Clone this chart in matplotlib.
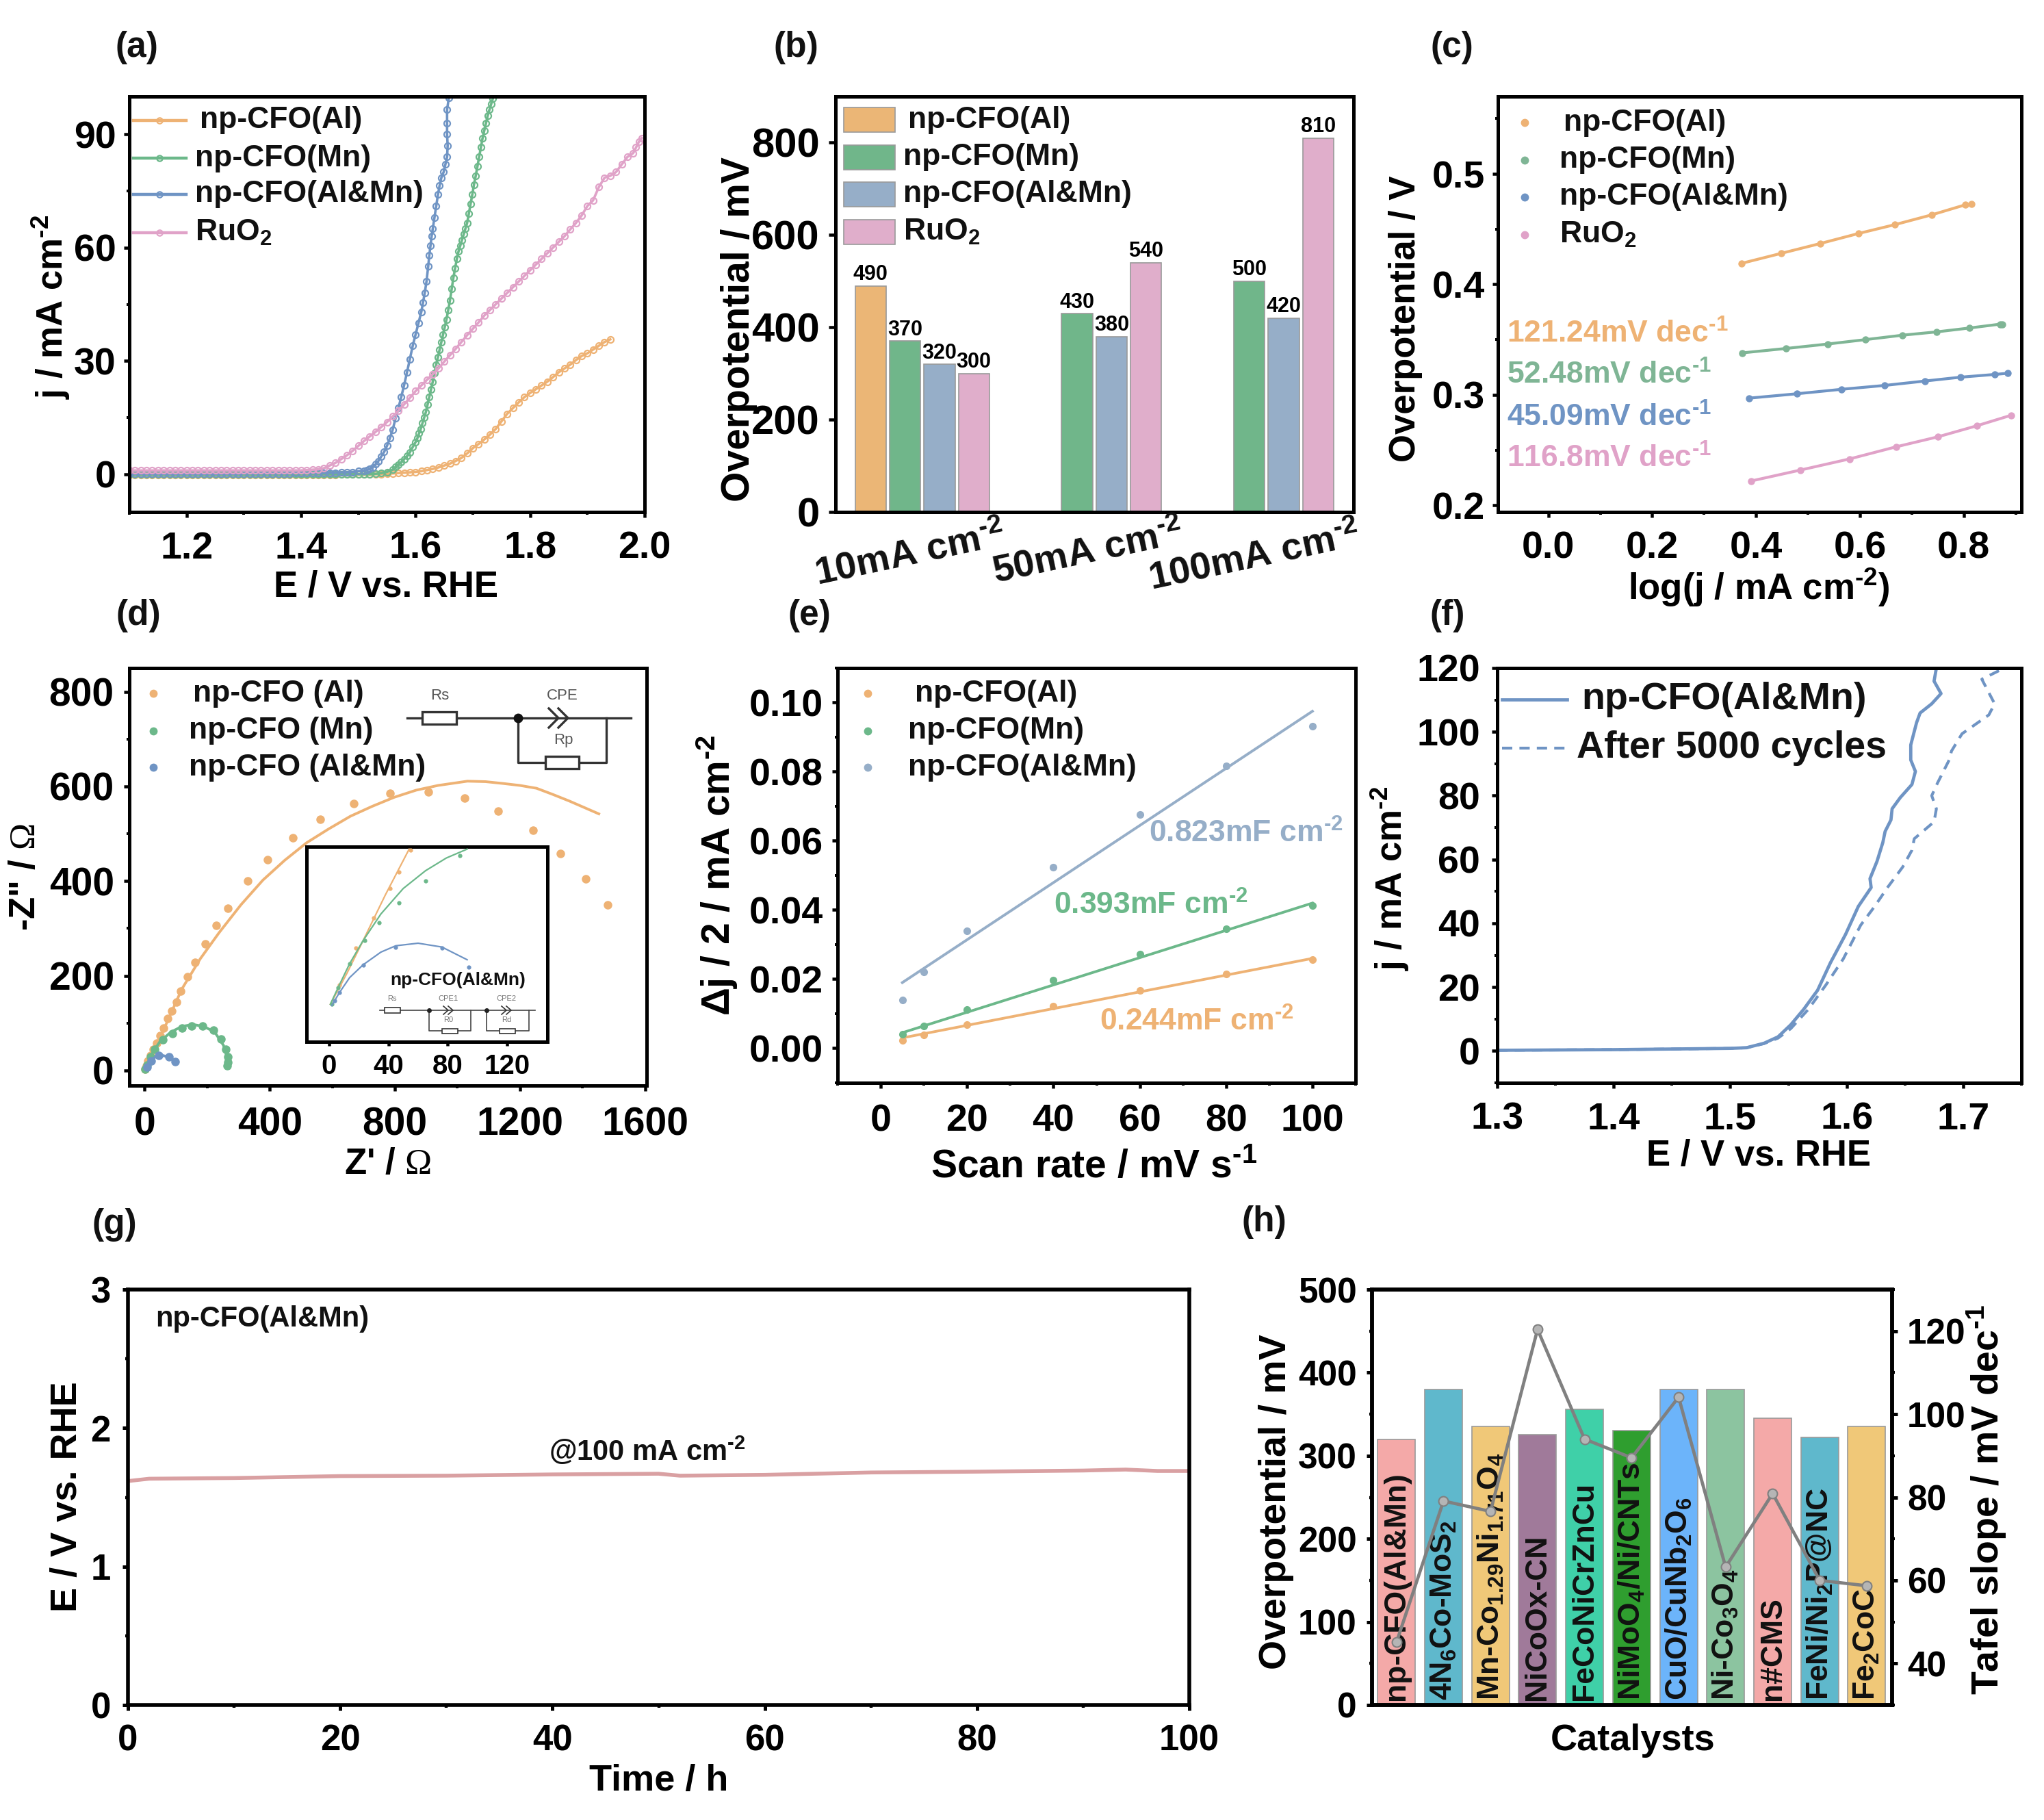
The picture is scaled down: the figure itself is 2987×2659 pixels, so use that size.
import matplotlib
matplotlib.use('Agg')
import matplotlib.pyplot as plt
from matplotlib.patches import Rectangle
from matplotlib.ticker import AutoMinorLocator, MultipleLocator

W, H = 2987, 2659

plt.rcParams['font.family'] = ['Liberation Sans', 'DejaVu Sans']
plt.rcParams['font.weight'] = 'bold'
plt.rcParams['axes.labelweight'] = 'bold'
plt.rcParams['mathtext.fontset'] = 'custom'
plt.rcParams['mathtext.rm'] = 'Liberation Sans:bold'
plt.rcParams['mathtext.tt'] = 'Liberation Serif:weight=normal'
plt.rcParams['mathtext.default'] = 'regular'

SUP2 = '$^{\u20102}$'
SUP1 = '$^{\u20101}$'
OHM = r'$\mathtt{\Omega}$'

ORANGE, GREEN, BLUE, PINK = '#eeb274', '#6cb88a', '#6f94c4', '#e0a2c8'

# (a) LSV curves
E_low = [1.10, 1.11, 1.12, 1.13, 1.14, 1.15, 1.16, 1.17, 1.18, 1.19, 1.20, 1.21, 1.22, 1.23,
         1.24, 1.25, 1.26, 1.27, 1.28, 1.29, 1.30, 1.31, 1.32, 1.33, 1.34, 1.35, 1.36, 1.37,
         1.38, 1.39, 1.40, 1.41, 1.42, 1.43, 1.44, 1.45, 1.46, 1.47, 1.48, 1.49, 1.50]
j_low_al = [-0.2, -0.2, -0.2, -0.2, -0.2, -0.2, -0.2, -0.2, -0.2, -0.2, -0.2, -0.2, -0.2, -0.2,
            -0.2, -0.2, -0.2, -0.2, -0.2, -0.2, -0.2, -0.2, -0.2, -0.2, -0.2, -0.2, -0.2, -0.2,
            -0.2, -0.2, -0.2, -0.2, -0.2, -0.2, -0.2, -0.2, -0.2, -0.1, -0.1, -0.1, -0.1]
j_low_mn = [-0.1, -0.1, -0.1, -0.1, -0.1, -0.1, -0.1, -0.1, -0.1, -0.1, -0.1, -0.1, -0.1, -0.1,
            -0.1, -0.1, -0.1, -0.1, -0.1, -0.1, -0.1, -0.1, -0.1, -0.1, -0.1, -0.1, -0.1, -0.1,
            -0.1, -0.1, 0.0, 0.0, 0.0, 0.0, 0.0, 0.0, 0.0, 0.0, 0.0, 0.0, 0.0]
j_low_blue = [0.1, 0.1, 0.1, 0.1, 0.1, 0.1, 0.1, 0.1, 0.1, 0.1, 0.1, 0.1, 0.1, 0.1,
              0.1, 0.1, 0.1, 0.1, 0.1, 0.1, 0.2, 0.2, 0.2, 0.2, 0.2, 0.2, 0.2, 0.2,
              0.2, 0.3, 0.3, 0.3, 0.3, 0.3, 0.3, 0.4, 0.4, 0.5, 0.5, 0.6, 0.8]
j_low_ru = [1.0, 1.0, 1.0, 1.0, 1.0, 1.0, 1.0, 1.0, 1.0, 1.0, 1.0, 1.0, 1.0, 1.0,
            1.0, 1.0, 1.0, 1.0, 1.0, 1.0, 1.0, 1.0, 1.0, 1.0, 1.0, 1.0, 1.0, 1.0,
            1.0, 1.0, 1.0, 1.1, 1.2, 1.3, 1.6, 2.3, 3.0, 4.0, 5.0, 6.2, 7.5]

E_al = [1.51, 1.52, 1.53, 1.54, 1.55, 1.56, 1.57, 1.58, 1.59, 1.60, 1.61, 1.62, 1.63, 1.64, 1.65,
        1.66, 1.67, 1.68, 1.69, 1.70, 1.71, 1.72, 1.73, 1.74, 1.75, 1.76, 1.77, 1.78, 1.79, 1.80,
        1.81, 1.82, 1.83, 1.84, 1.85, 1.86, 1.87, 1.88, 1.89, 1.90, 1.91, 1.92, 1.93, 1.94]
j_al = [-0.1, -0.1, 0.0, 0.0, 0.1, 0.2, 0.3, 0.4, 0.5, 0.6, 0.8, 1.1, 1.4, 1.8, 2.3,
        2.8, 3.5, 4.3, 5.5, 6.9, 8.0, 9.2, 10.5, 12.0, 14.0, 16.0, 17.5, 19.0, 20.4, 21.5,
        22.5, 23.5, 24.5, 25.7, 27.0, 28.0, 29.0, 30.2, 31.3, 32.0, 33.0, 34.0, 35.0, 35.7]
E_mn = [1.51, 1.52, 1.53, 1.54, 1.55, 1.56, 1.565, 1.57, 1.575, 1.58, 1.585, 1.59, 1.595, 1.60,
        1.603, 1.606, 1.609, 1.612, 1.615, 1.618, 1.621, 1.624, 1.627, 1.63, 1.633, 1.636, 1.639,
        1.642, 1.645, 1.648, 1.651, 1.654, 1.657, 1.66, 1.663, 1.666, 1.669, 1.672, 1.675, 1.678,
        1.681, 1.684, 1.687, 1.69, 1.693, 1.696, 1.699, 1.702, 1.705, 1.708, 1.711, 1.714, 1.717,
        1.72, 1.723, 1.726, 1.729, 1.732, 1.735]
j_mn = [0.0, 0.0, 0.1, 0.3, 0.6, 1.2, 1.9, 2.5, 3.2, 4.0, 4.8, 5.8, 7.2, 8.5,
        9.5, 10.8, 12.0, 13.5, 15.0, 16.5, 18.5, 20.5, 22.5, 24.5, 26.7, 29.0, 31.0,
        33.0, 35.0, 37.0, 39.0, 41.0, 43.5, 46.0, 49.0, 52.0, 54.5, 57.0, 59.0, 60.5,
        62.0, 63.5, 65.0, 66.5, 69.0, 71.5, 74.0, 76.7, 79.0, 81.5, 84.0, 86.5, 89.0,
        91.0, 93.0, 95.0, 96.5, 98.0, 99.5]
E_blue = [1.51, 1.515, 1.52, 1.525, 1.53, 1.535, 1.54, 1.545, 1.55, 1.555, 1.56, 1.565, 1.57, 1.575,
          1.58, 1.585, 1.59, 1.595, 1.60, 1.605, 1.61, 1.613, 1.616, 1.619, 1.622, 1.624, 1.626,
          1.628, 1.63, 1.633, 1.636, 1.639, 1.642, 1.645, 1.649, 1.652, 1.655, 1.656, 1.655, 1.655,
          1.655, 1.658]
j_blue = [0.9, 1.1, 1.4, 1.8, 2.6, 3.5, 4.7, 5.9, 7.5, 9.5, 11.8, 14.8, 17.5, 20.5,
          23.6, 27.0, 30.5, 34.0, 37.0, 40.0, 43.0, 45.5, 48.0, 51.0, 55.0, 58.0, 60.5,
          63.0, 65.0, 68.0, 71.0, 74.0, 76.5, 78.5, 80.0, 82.0, 84.0, 87.0, 90.0, 93.0,
          96.5, 99.6]
E_ru = [1.51, 1.52, 1.53, 1.54, 1.55, 1.56, 1.57, 1.58, 1.59, 1.60, 1.61, 1.62, 1.63, 1.64, 1.65,
        1.66, 1.67, 1.68, 1.69, 1.70, 1.71, 1.72, 1.73, 1.74, 1.75, 1.76, 1.77, 1.78, 1.79, 1.80,
        1.81, 1.82, 1.83, 1.84, 1.85, 1.86, 1.87, 1.88, 1.89, 1.90, 1.91, 1.92, 1.93, 1.94, 1.95,
        1.96, 1.97, 1.98, 1.985, 1.99, 1.995]
j_ru = [8.8, 10.0, 11.2, 12.5, 13.8, 15.3, 16.8, 18.5, 20.2, 22.0, 23.5, 25.0, 26.5, 28.0, 29.8,
        31.5, 33.2, 35.0, 36.8, 38.5, 40.2, 42.0, 43.5, 45.0, 46.5, 48.0, 49.5, 51.0, 52.5, 54.0,
        55.5, 57.0, 58.5, 60.0, 61.5, 63.0, 64.8, 66.5, 68.5, 71.0, 72.5, 76.0, 78.5, 79.0, 80.0,
        82.0, 84.0, 85.0, 86.5, 88.0, 89.0]

# (b) overpotential bars
density_labels = ['10mA cm', '50mA cm', '100mA cm']
eta_al = [490]
eta_mn = [370, 430, 500]
eta_blue = [320, 380, 420]
eta_ru = [300, 540, 810]

# (c) Tafel plots
logj_al = [0.372, 0.448, 0.524, 0.597, 0.667, 0.739, 0.803, 0.815]
tafel_al = [0.419, 0.428, 0.437, 0.446, 0.454, 0.463, 0.472, 0.473]
logj_mn = [0.374, 0.458, 0.538, 0.611, 0.682, 0.748, 0.811, 0.870, 0.874]
tafel_mn = [0.338, 0.342, 0.346, 0.350, 0.354, 0.357, 0.3605, 0.364, 0.364]
logj_blue = [0.386, 0.479, 0.564, 0.647, 0.725, 0.794, 0.860, 0.884]
tafel_blue = [0.297, 0.301, 0.305, 0.3085, 0.3125, 0.316, 0.3185, 0.3195]
logj_ru = [0.390, 0.486, 0.580, 0.670, 0.750, 0.825, 0.891]
tafel_ru = [0.222, 0.232, 0.242, 0.253, 0.262, 0.272, 0.2815]
slope_labels = ['121.24mV dec', '52.48mV dec', '45.09mV dec', '116.8mV dec']

# (d) Nyquist data and fits
zr_al = [1481, 1411, 1330, 1242, 1131, 1022, 906, 784, 668, 561, 474, 393, 330, 267, 228, 193, 161,
         136, 116, 101, 87, 73, 60, 49, 38, 28, 18, 11, 6, 2]
zi_al = [350, 404, 458, 507, 548, 576, 588, 586, 564, 531, 492, 445, 400, 343, 307, 267, 228,
         198, 168, 144, 126, 109, 89, 73, 57, 44, 32, 20, 10, 2]
fit_zr_al = [0, 60, 119, 178, 238, 308, 378, 448, 518, 588, 658, 728, 798, 868, 938, 1032, 1090,
             1148, 1200, 1253, 1305, 1358, 1452]
fit_zi_al = [0, 85, 172, 236, 291, 350, 402, 444, 481, 510, 537, 558, 577, 592, 602, 611, 610,
             606, 602, 596, 583, 569, 542]
zr_mn = [263, 266, 266, 260, 245, 220, 186, 150, 119, 88, 59, 32, 18, 7, 2]
zi_mn = [10, 17, 29, 45, 67, 85, 94, 94, 90, 78, 65, 45, 29, 12, 2]
fit_zr_mn = [2, 21, 49, 84, 119, 154, 189, 224, 252, 266, 270]
fit_zi_mn = [2, 33, 61, 81, 93, 97, 93, 81, 53, 21, 5]
zr_blue = [98, 77, 46, 21, 8]
zi_blue = [19, 29, 32, 20, 7]
fit_zr_blue = [3, 14, 35, 56, 77, 95]
fit_zi_blue = [2, 17, 29, 32, 28, 20]

# (d) inset
in_zr_al = [7, 18, 30, 41, 47, 55]
in_zi_al = [15, 44, 68, 91, 104, 121]
in_fit_zr_al = [1, 12, 23, 38, 54]
in_fit_zi_al = [0, 24, 50, 86, 122]
in_zr_mn = [2, 6, 14, 24, 34, 47, 65, 88]
in_zi_mn = [0, 13, 32, 50, 64, 80, 97, 117]
in_fit_zr_mn = [1, 7, 14, 23, 35, 50, 65, 79, 93]
in_fit_zi_mn = [0, 15, 32, 50, 71, 91, 105, 115, 122]
in_zr_blue = [4, 7, 23, 45, 76, 94]
in_zi_blue = [3, 9, 31, 45, 44, 29]
in_fit_zr_blue = [2, 7, 14, 23, 35, 45, 60, 76, 93]
in_fit_zi_blue = [-1, 9, 21, 31, 41, 46, 48, 45, 35]

# (e) double layer capacitance
scan_rate = [5, 10, 20, 40, 60, 80, 100]
dj_al = [0.0023, 0.0039, 0.0068, 0.0121, 0.0167, 0.0214, 0.0257]
dj_mn = [0.0041, 0.0065, 0.0112, 0.0197, 0.0273, 0.0346, 0.0412]
dj_blue = [0.0140, 0.0220, 0.0340, 0.0524, 0.0676, 0.0817, 0.0931]
fit_ends = [5, 100]
fit_al = [0.0030, 0.0260]
fit_mn = [0.0045, 0.0420]
fit_blue = [0.0190, 0.0975]

# (f) durability LSV
E_fresh = [1.30, 1.40, 1.50, 1.514, 1.529, 1.541, 1.552, 1.563, 1.575, 1.586, 1.599, 1.610, 1.621,
           1.620, 1.626, 1.631, 1.633, 1.638, 1.639, 1.646, 1.656, 1.659, 1.655, 1.655, 1.660,
           1.663, 1.673, 1.681, 1.675, 1.677]
j_fresh = [0.2, 0.4, 0.8, 1.0, 2.4, 4.4, 8.2, 13.0, 19.0, 27.6, 36.5, 45.3, 51.2,
           54.0, 59.4, 65.3, 68.8, 72.4, 75.9, 79.4, 83.5, 87.6, 91.2, 95.9, 102.9,
           105.9, 108.8, 112.0, 115.9, 120.0]
E_aged = [1.30, 1.40, 1.50, 1.514, 1.529, 1.541, 1.552, 1.567, 1.582, 1.597, 1.612, 1.624, 1.635,
          1.648, 1.656, 1.658, 1.675, 1.677, 1.673, 1.678, 1.688, 1.690, 1.699, 1.722, 1.727,
          1.716, 1.732]
j_aged = [0.2, 0.4, 0.8, 1.0, 2.3, 4.0, 7.0, 13.0, 20.6, 28.8, 39.4, 45.3, 51.2,
          57.6, 62.9, 66.5, 71.8, 75.9, 80.0, 84.0, 91.2, 94.0, 99.4, 105.3, 108.8,
          116.5, 119.4]

# (g) chronopotentiometry
time_h = [0, 2, 10, 20, 30, 40, 50, 52, 60, 70, 80, 90, 94, 97, 100]
e_time = [1.617, 1.634, 1.639, 1.653, 1.656, 1.665, 1.670, 1.656, 1.662, 1.679, 1.685, 1.693, 1.700, 1.690, 1.690]

# (h) catalyst comparison
catalysts = ['np-CFO(Al&Mn)', '4N$_6$Co-MoS$_2$', 'Mn-Co$_{1.29}$Ni$_{1.71}$O$_4$', 'NiCoOx-CN',
             'FeCoNiCrZnCu', 'NiMoO$_4$/Ni/CNTs', 'CuO/CuNb$_2$O$_6$', 'Ni-Co$_3$O$_4$', 'n#CMS',
             'FeNi/Ni$_2$P@NC', 'Fe$_2$CoC']
cat_eta = [320, 380, 335, 325, 356, 330, 380, 380, 345, 322, 335]
cat_tafel = [45.09, 79.1, 76.6, 120.4, 94, 89.5, 104.1, 63.2, 80.9, 60, 58.7]
cat_colors = ['#f4a9a8', '#5fb8cc', '#f0c878', '#a07a9a', '#3fd0a8', '#2f9e2f', '#6cb4fa',
              '#8cc4a0', '#f4a9a8', '#5fb8cc', '#f0c878']


fig = plt.figure(figsize=(W / 100, H / 100), dpi=100)
ov = fig.add_axes([0, 0, 1, 1], zorder=10)
ov.set_xlim(0, W)
ov.set_ylim(H, 0)
ov.axis('off')


def panel(left, top, right, bottom, xlim, ylim, size=40, pad=8, xpad=14, lw=3.6, tick=6):
	ax = fig.add_axes([left / W, 1 - bottom / H, (right - left) / W, (bottom - top) / H])
	ax.set_xlim(*xlim)
	ax.set_ylim(*ylim)
	for spine in ax.spines.values():
		spine.set_linewidth(lw)
	ax.tick_params(which='major', direction='out', length=tick, width=lw * 0.9, labelsize=size)
	ax.tick_params(which='minor', direction='out', length=tick * 0.5, width=lw * 0.8)
	ax.tick_params(axis='y', pad=pad)
	ax.tick_params(axis='x', pad=xpad)
	return ax


def labels(ax, xtext, xpos, ytext, ypos, xsize=38, ysize=38):
	if xtext:
		ax.set_xlabel(xtext, fontsize=xsize, va='center', ha='center')
		ax.xaxis.set_label_coords(xpos[0], xpos[1], transform=ov.transData)
	ax.set_ylabel(ytext, fontsize=ysize, va='center', ha='center')
	ax.yaxis.set_label_coords(ypos[0], ypos[1], transform=ov.transData)


def note(x, y, s, size=32, color='#111111', **kw):
	kw.setdefault('va', 'center')
	kw.setdefault('ha', 'left')
	ov.text(x, y, s, fontsize=size, color=color, **kw)


def dot_key(x, y, color, ms=7.5):
	ov.plot([x], [y], 'o', color=color, ms=ms, mec=color)


def resistor(x0, x1, y0, y1, lw):
	ov.add_patch(Rectangle((x0, y0), x1 - x0, y1 - y0, fc='white', ec='#333333', lw=lw, zorder=3))


def chevrons(x0, x1, y, half, lw):
	mid = (x0 + x1) / 2
	ov.plot([x0, mid, x0], [y - half, y, y + half], color='#333333', lw=lw, zorder=4)
	ov.plot([mid, x1, mid], [y - half, y, y + half], color='#333333', lw=lw, zorder=4)


# panel letters
for letter, px, py in [('(a)', 200, 69), ('(b)', 1163, 69), ('(c)', 2122, 69), ('(d)', 202, 899),
                       ('(e)', 1183, 899), ('(f)', 2115, 899), ('(g)', 167, 1789), ('(h)', 1847, 1786)]:
	note(px, py, letter, size=37, ha='center')

# (a)
ax = panel(189, 141, 942, 748, (1.1, 2.0), (-10, 100))
for ex, ey, ex2, ey2, col in [(E_low, j_low_al, E_al, j_al, ORANGE), (E_low, j_low_mn, E_mn, j_mn, GREEN),
                              (E_low, j_low_blue, E_blue, j_blue, BLUE), (E_low, j_low_ru, E_ru, j_ru, PINK)]:
	ax.plot(ex + ex2, ey + ey2, '-o', color=col, lw=2.6, ms=6.5, mfc='none', mew=1.6)
ax.xaxis.set_major_locator(MultipleLocator(0.2))
ax.yaxis.set_major_locator(MultipleLocator(30))
ax.xaxis.set_minor_locator(AutoMinorLocator(2))
ax.yaxis.set_minor_locator(AutoMinorLocator(2))
labels(ax, 'E / V vs. RHE', (564, 858), 'j / mA cm' + SUP2, (74, 448))
for y, col, txt, tx in [(176, ORANGE, 'np-CFO(Al)', 292), (231, GREEN, 'np-CFO(Mn)', 285),
                        (284, BLUE, 'np-CFO(Al&Mn)', 285), (340, PINK, 'RuO$_2$', 285)]:
	ov.plot([195, 272], [y, y], color=col, lw=3.2)
	ov.plot([233], [y], 'o', color=col, ms=6, mfc='none', mew=1.6)
	note(tx, y, txt)

# (b)
ax = panel(1221, 141, 1978, 748, (-1.02, 14.03), (0, 900), size=43, pad=10, tick=7)
bar_sets = [(eta_al, [0], '#ebb676'), (eta_mn, [1, 6, 11], '#70b68a'),
            (eta_blue, [2, 7, 12], '#96aec8'), (eta_ru, [3, 8, 13], '#e0aecb')]
for vals, xs, fill in bar_sets:
	bars = ax.bar(xs, vals, width=0.9, color=fill, edgecolor='#9a9a9a', linewidth=1.2)
	ax.bar_label(bars, padding=1, fontsize=22)
ax.set_xticks([])
ax.yaxis.set_major_locator(MultipleLocator(200))
labels(ax, None, None, 'Overpotential / mV', (1080, 481), ysize=41)
for txt, px, py in zip(density_labels, [1330, 1590, 1833], [812, 809, 815]):
	note(px, py, txt + SUP2, size=40, ha='center', rotation=12)
for y0, y1, fill, txt, tx in [(157, 193, '#ebb676', 'np-CFO(Al)', 1327), (212, 248, '#70b68a', 'np-CFO(Mn)', 1320),
                              (266, 302, '#96aec8', 'np-CFO(Al&Mn)', 1320), (321, 357, '#e0aecb', 'RuO$_2$', 1320)]:
	ov.add_patch(Rectangle((1233, y0), 75, y1 - y0, fc=fill, ec='#9a9a9a', lw=1.2))
	note(tx, (y0 + y1) / 2, txt)

# (c)
ax = panel(2189, 141, 2954, 748, (-0.097, 0.911), (0.194, 0.570))
for xs, ys, col in [(logj_al, tafel_al, ORANGE), (logj_mn, tafel_mn, '#7fb595'),
                    (logj_blue, tafel_blue, BLUE), (logj_ru, tafel_ru, PINK)]:
	ax.plot(xs, ys, '-o', color=col, lw=3, ms=6.5, mec=col)
ax.xaxis.set_major_locator(MultipleLocator(0.2))
ax.yaxis.set_major_locator(MultipleLocator(0.1))
ax.xaxis.set_minor_locator(AutoMinorLocator(2))
ax.yaxis.set_minor_locator(AutoMinorLocator(2))
labels(ax, 'log(j / mA cm' + SUP2 + ')', (2570, 858), 'Overpotential / V', (2054, 466))
for y, col, txt, tx in [(179, ORANGE, 'np-CFO(Al)', 2285), (234, '#7fb595', 'np-CFO(Mn)', 2279),
                        (288, BLUE, 'np-CFO(Al&Mn)', 2279), (343, PINK, 'RuO$_2$', 2279)]:
	dot_key(2228, y, col)
	note(tx, y, txt)
for y, col, txt in zip([488, 548, 610, 670], [ORANGE, '#7fb595', BLUE, PINK], slope_labels):
	note(2202, y, txt + SUP1, size=32, color=col)

# (d)
ax = panel(189, 976, 945, 1586, (-49, 1605), (-32, 850), size=41, pad=10, xpad=16)
for fx, fy, xs, ys, col in [(fit_zr_al, fit_zi_al, zr_al, zi_al, ORANGE), (fit_zr_mn, fit_zi_mn, zr_mn, zi_mn, GREEN),
                            (fit_zr_blue, fit_zi_blue, zr_blue, zi_blue, BLUE)]:
	ax.plot(fx, fy, '-', color=col, lw=2.8)
	ax.plot(xs, ys, 'o', color=col, ms=8, mec=col)
ax.xaxis.set_major_locator(MultipleLocator(400))
ax.yaxis.set_major_locator(MultipleLocator(200))
ax.xaxis.set_minor_locator(AutoMinorLocator(2))
ax.yaxis.set_minor_locator(AutoMinorLocator(2))
labels(ax, "Z' / " + OHM, (567, 1701), '-Z" / ' + OHM, (37, 1281))
for y, col, txt, tx in [(1013, ORANGE, 'np-CFO (Al)', 282), (1068, GREEN, 'np-CFO (Mn)', 276), (1121, BLUE, 'np-CFO (Al&Mn)', 276)]:
	dot_key(224, y, col)
	note(tx, y, txt)

inset = panel(448, 1237, 800, 1522, (-15, 147), (-29.5, 123.9), size=29, xpad=8, lw=3.6, tick=4)
for fx, fy, xs, ys, col in [(in_fit_zr_al, in_fit_zi_al, in_zr_al, in_zi_al, ORANGE),
                            (in_fit_zr_mn, in_fit_zi_mn, in_zr_mn, in_zi_mn, GREEN),
                            (in_fit_zr_blue, in_fit_zi_blue, in_zr_blue, in_zi_blue, BLUE)]:
	inset.plot(fx, fy, '-', color=col, lw=1.6, zorder=3)
	inset.plot(xs, ys, 'o', color=col, ms=3.5, zorder=3)
inset.set_xticks([0, 40, 80, 120])
inset.set_yticks([])
note(669, 1432, 'np-CFO(Al&Mn)', size=19, ha='center')

# circuit of the main Nyquist plot
cw = 2.4
ov.plot([595, 922], [1049, 1049], color='#333333', lw=cw)
ov.plot([757, 757, 886, 886], [1049, 1114, 1114, 1049], color='#333333', lw=cw)
ov.plot([757], [1049], 'o', color='#111111', ms=9)
resistor(617, 667, 1040, 1058, cw)
resistor(797, 846, 1105, 1123, cw)
chevrons(802, 830, 1049, 14, cw)
for txt, px, py in [('Rs', 643, 1017), ('CPE', 822, 1017), ('Rp', 823, 1082)]:
	ov.text(px, py, txt, fontsize=16, ha='center', va='center', color='#555555', fontweight='normal')

# circuit of the inset
cs = 1.2
ov.plot([555, 782], [1476, 1476], color='#444444', lw=cs)
for x0, x1, rx0, rx1, cx0, cx1, top_lbl, low_lbl in [(627, 688, 646, 669, 648, 662, 'CPE1', 'R0'),
                                                      (711, 773, 730, 753, 733, 747, 'CPE2', 'Rd')]:
	ov.plot([x0, x0, x1, x1], [1476, 1506, 1506, 1476], color='#444444', lw=cs)
	ov.plot([x0], [1476], 'o', color='#222222', ms=4)
	resistor(rx0, rx1, 1503, 1510, cs)
	chevrons(cx0, cx1, 1476, 6, cs)
	ov.text((cx0 + cx1) / 2, 1459, top_lbl, fontsize=8, ha='center', va='center', color='#777777', fontweight='normal')
	ov.text((cx0 + cx1) / 2, 1490, low_lbl, fontsize=8, ha='center', va='center', color='#777777', fontweight='normal')
resistor(562, 585, 1472, 1480, cs)
ov.text(573, 1459, 'Rs', fontsize=8, ha='center', va='center', color='#777777', fontweight='normal')

# (e)
ax = panel(1224, 976, 1981, 1582, (-10, 110), (-0.010, 0.110), pad=9, xpad=16)
for ys, fit, col in [(dj_al, fit_al, ORANGE), (dj_mn, fit_mn, GREEN), (dj_blue, fit_blue, '#96aec8')]:
	ax.plot(fit_ends, fit, '-', color=col, lw=2.8)
	ax.plot(scan_rate, ys, 'o', color=col, ms=7, mec=col)
ax.xaxis.set_major_locator(MultipleLocator(20))
ax.yaxis.set_major_locator(MultipleLocator(0.02))
ax.xaxis.set_minor_locator(AutoMinorLocator(2))
ax.yaxis.set_minor_locator(AutoMinorLocator(2))
ax.yaxis.set_major_formatter(plt.FormatStrFormatter('%.2f'))
labels(ax, 'Scan rate / mV s' + SUP1, (1599, 1705), '\u0394j / 2 / mA cm' + SUP2, (1048, 1279), xsize=41, ysize=41)
for y, col, txt, tx in [(1013, ORANGE, 'np-CFO(Al)', 1337), (1068, GREEN, 'np-CFO(Mn)', 1327), (1121, '#96aec8', 'np-CFO(Al&Mn)', 1327)]:
	dot_key(1268, y, col)
	note(tx, y, txt)
note(1679, 1218, '0.823mF cm' + SUP2, color='#96aec8')
note(1540, 1323, '0.393mF cm' + SUP2, color=GREEN)
note(1607, 1493, '0.244mF cm' + SUP2, color=ORANGE)

# (f)
ax = panel(2188, 976, 2954, 1582, (1.3, 1.75), (-10, 120), pad=12)
ax.plot(E_aged, j_aged, color=BLUE, lw=3, dashes=(3.6, 2.5))
ax.plot(E_fresh, j_fresh, '-', color=BLUE, lw=3.4)
ax.xaxis.set_major_locator(MultipleLocator(0.1))
ax.yaxis.set_major_locator(MultipleLocator(20))
ax.xaxis.set_minor_locator(AutoMinorLocator(2))
ax.yaxis.set_minor_locator(AutoMinorLocator(2))
labels(ax, 'E / V vs. RHE', (2570, 1689), 'j / mA cm' + SUP2, (2031, 1283))
ov.plot([2195, 2290], [1022, 1022], '-', color=BLUE, lw=3.4)
ov.plot([2195, 2290], [1093, 1093], color=BLUE, lw=3, dashes=(3.6, 2.5))
note(2311, 1022, 'np-CFO(Al&Mn)', size=40)
note(2304, 1093, 'After 5000 cycles', size=40)

# (g)
ax = panel(187, 1884, 1738, 2491, (0, 100), (0, 3), size=38, pad=12, lw=4)
ax.plot(time_h, e_time, '-', color='#d9a0a2', lw=4)
ax.xaxis.set_major_locator(MultipleLocator(20))
ax.yaxis.set_major_locator(MultipleLocator(1))
ax.xaxis.set_minor_locator(AutoMinorLocator(2))
ax.yaxis.set_minor_locator(AutoMinorLocator(2))
labels(ax, 'Time / h', (963, 2602), 'E / V vs. RHE', (98, 2187), xsize=39, ysize=39)
note(227, 1927, 'np-CFO(Al&Mn)', size=30)
note(946, 2120, '@100 mA cm' + SUP2, size=30, ha='center')

# (h)
ax = panel(2005, 1884, 2765, 2491, (-0.52, 10.54), (0, 500), size=37, pad=10, xpad=0, lw=4)
positions = list(range(len(catalysts)))
ax.bar(positions, cat_eta, width=0.8, color=cat_colors, edgecolor='#9a9a9a', linewidth=1.2)
for pos, name in zip(positions, catalysts):
	ax.text(pos, 6, name, rotation=90, ha='center', va='bottom', fontsize=32, color='#111111')
ax.set_xticks([])
ax.yaxis.set_major_locator(MultipleLocator(100))
ax.yaxis.set_minor_locator(AutoMinorLocator(2))
labels(ax, 'Catalysts', (2386, 2543), 'Overpotential / mV', (1865, 2194), xsize=39, ysize=40)
ax2 = ax.twinx()
ax2.set_ylim(30, 130)
ax2.plot(positions, cat_tafel, '-o', color='#808080', lw=3.4, ms=10, mfc='#b5b5b5', mec='#808080', mew=1.5)
for spine in ax2.spines.values():
	spine.set_linewidth(4)
ax2.tick_params(which='major', direction='out', length=6, width=3.6, labelsize=37, pad=10)
ax2.tick_params(which='minor', direction='out', length=3, width=3)
ax2.yaxis.set_major_locator(MultipleLocator(20))
ax2.yaxis.set_minor_locator(AutoMinorLocator(2))
ax2.set_ylabel('Tafel slope / mV dec' + SUP1, fontsize=40, va='center', ha='center', rotation=90)
ax2.yaxis.set_label_coords(2903, 2191, transform=ov.transData)

fig.savefig('out.png', dpi=100, facecolor='white')
